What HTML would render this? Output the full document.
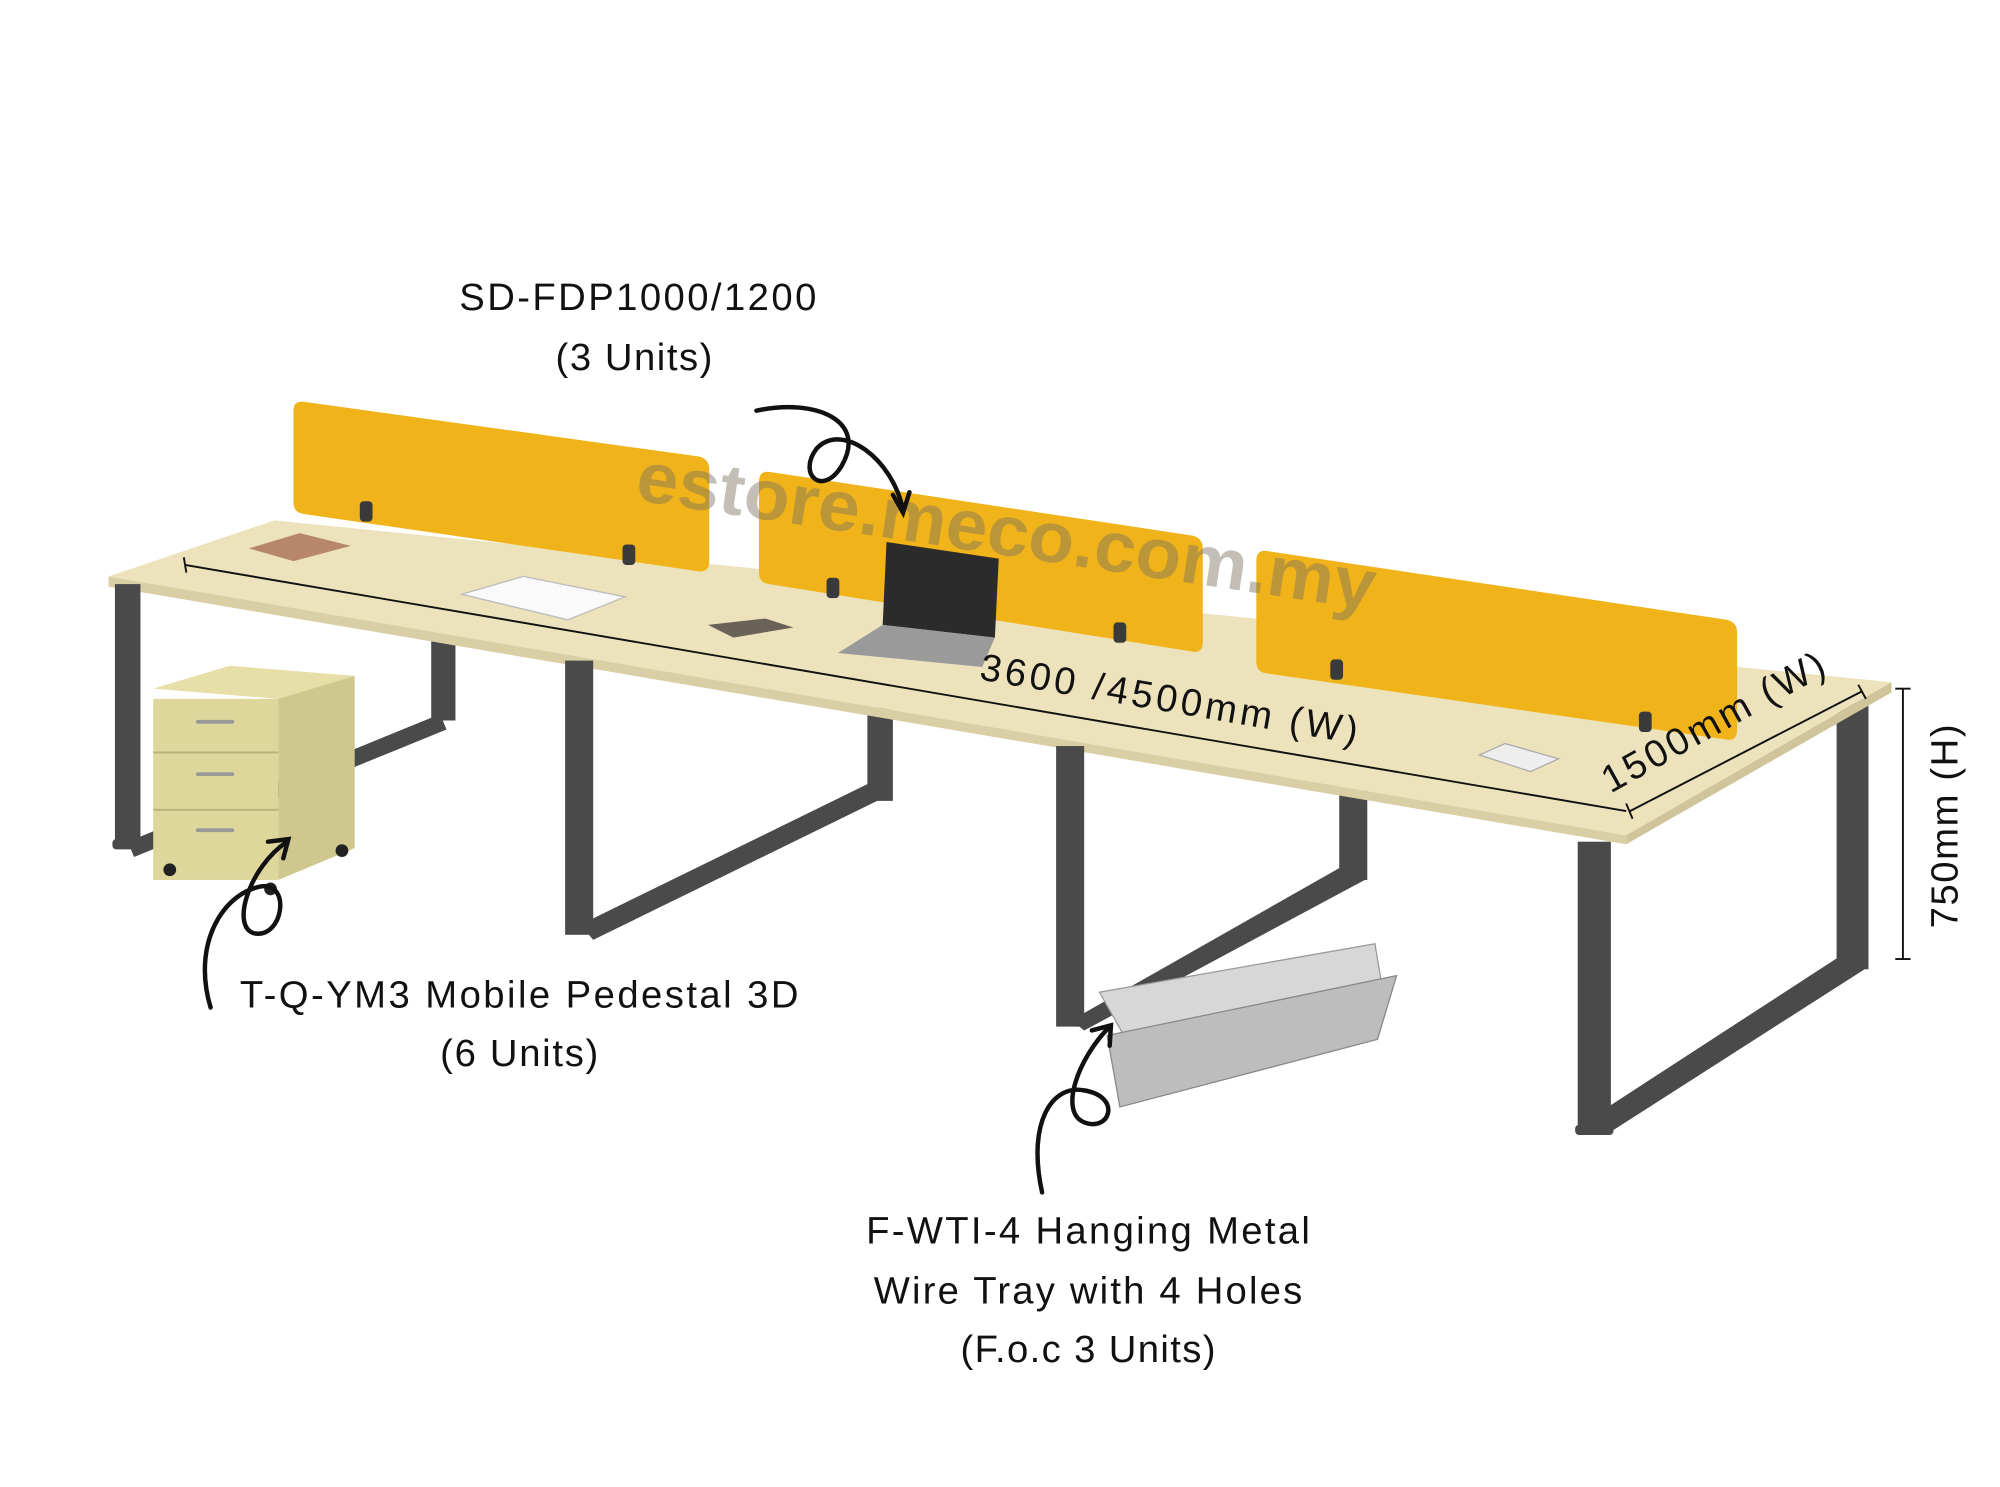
<!DOCTYPE html>
<html><head><meta charset="utf-8"><style>
html,body{margin:0;padding:0;background:#fff;}
svg{display:block;}
text{font-family:"Liberation Sans",sans-serif;}
</style></head><body>
<svg width="2000" height="1487" viewBox="0 0 1568 1166" xmlns="http://www.w3.org/2000/svg">
<rect width="1568" height="1166" fill="#fff"/>
<!-- back legs -->
<g fill="#4a4a4a">
<polygon points="338,500 357,500 357,565 338,565"/>
<polygon points="100,660 345,560 350,572 105,672"/>
<polygon points="680,555 700,555 700,628 680,628"/>
<polygon points="1050,620 1072,620 1072,690 1050,690"/>
<polygon points="1440,550 1465,550 1465,760 1440,760"/>
</g>
<!-- table top -->
<polygon points="85,452 215,408 1483,535 1275,655" fill="#ece3bd"/>
<polygon points="85,452 1275,655 1275,662 85,460" fill="#d8cfa4"/>
<polygon points="1275,655 1483,535 1483,543 1275,662" fill="#cfc49a"/>
<!-- front legs -->
<g fill="#4a4a4a">
<rect x="90" y="458" width="20" height="205"/>
<rect x="88" y="658" width="24" height="8" rx="3"/>
<rect x="443" y="518" width="22" height="215"/>
<polygon points="455,725 690,610 700,622 465,737"/>
<rect x="828" y="585" width="22" height="220"/>
<polygon points="840,800 1060,675 1070,690 850,808"/>
<rect x="1237" y="660" width="26" height="225"/>
<polygon points="1250,875 1450,745 1462,760 1262,888"/>
<rect x="1235" y="882" width="30" height="8" rx="3"/>
</g>
<!-- panels -->
<g fill="#f0b41a">
<path d="M238,315 L548,358 Q556,360 556,368 L556,440 Q556,449 548,448 L238,403 Q230,402 230,394 L230,322 Q230,314 238,315Z"/>
<path d="M603,370 L935,420 Q943,422 943,430 L943,504 Q943,512 935,511 L603,458 Q595,457 595,449 L595,378 Q595,369 603,370Z"/>
<path d="M993,432 L1354,486 Q1362,488 1362,496 L1362,572 Q1362,581 1354,580 L993,528 Q985,527 985,519 L985,440 Q985,431 993,432Z"/>
</g>
<g fill="#3a3a3a">
<rect x="282" y="393" width="10" height="16" rx="3"/><rect x="488" y="427" width="10" height="16" rx="3"/>
<rect x="648" y="453" width="10" height="16" rx="3"/><rect x="873" y="488" width="10" height="16" rx="3"/>
<rect x="1043" y="517" width="10" height="16" rx="3"/><rect x="1285" y="558" width="10" height="16" rx="3"/>
</g>
<!-- laptop -->
<polygon points="695,425 783,438 780,500 692,490" fill="#2b2b2b"/>
<polygon points="692,490 780,500 770,523 657,512" fill="#9a9a9a"/>
<!-- desk items -->
<polygon points="362,466 410,452 490,468 445,486" fill="#fafafa" stroke="#bbb"/>
<polygon points="555,490 600,485 622,492 575,500" fill="#6a6158"/>
<polygon points="195,430 235,418 275,428 230,440" fill="#b8866a"/>
<polygon points="1160,592 1180,583 1222,595 1200,605" fill="#eee" stroke="#aaa"/>
<!-- pedestal -->
<polygon points="120,540 180,522 278,530 218,548" fill="#e6dfa7"/>
<polygon points="218,548 278,530 278,665 218,690" fill="#cfc88e"/>
<rect x="120" y="548" width="98" height="142" fill="#ddd79c"/>
<g stroke="#b8b27a" stroke-width="1.5"><line x1="120" y1="590" x2="218" y2="590"/><line x1="120" y1="635" x2="218" y2="635"/></g>
<g stroke="#999" stroke-width="3" stroke-linecap="round"><line x1="155" y1="566" x2="182" y2="566"/><line x1="155" y1="607" x2="182" y2="607"/><line x1="155" y1="651" x2="182" y2="651"/></g>
<g fill="#222"><circle cx="133" cy="682" r="5"/><circle cx="212" cy="697" r="5"/><circle cx="268" cy="667" r="5"/></g>
<!-- wire trays -->
<polygon points="862,778 1078,740 1083,770 880,810" fill="#d7d7d7" stroke="#999"/>
<polygon points="868,812 1095,765 1080,815 878,868" fill="#bdbdbd" stroke="#888"/>
<!-- watermark -->
<text x="497" y="392" transform="rotate(8.5 497 392)" font-size="56" font-weight="bold" fill="#7a7060" fill-opacity="0.45" textLength="585" lengthAdjust="spacingAndGlyphs">estore.meco.com.my</text>
<!-- dimension lines -->
<g stroke="#111" stroke-width="1.5" fill="none">
<line x1="145" y1="443" x2="1275" y2="636"/><line x1="144" y1="437" x2="146" y2="449"/>
<line x1="1278" y1="636" x2="1460" y2="542"/><line x1="1275" y1="630" x2="1280" y2="642"/><line x1="1457" y1="537" x2="1463" y2="548"/>
<line x1="1492" y1="540" x2="1492" y2="752"/><line x1="1486" y1="540" x2="1498" y2="540"/><line x1="1486" y1="752" x2="1498" y2="752"/>
</g>
<!-- curly arrows -->
<g stroke="#111" stroke-width="3.5" fill="none" stroke-linecap="round">
<path d="M593,322 C640,312 680,330 660,365 C645,390 625,372 640,352 C660,330 700,360 708,400"/>
<path d="M700,388 L708,402 L713,386"/>
<path d="M165,790 C150,740 175,700 205,695 C228,692 222,735 200,732 C180,728 195,680 225,660"/>
<path d="M210,660 L226,658 L222,673"/>
<path d="M817,935 C805,880 825,850 850,855 C880,860 870,888 850,880 C830,872 845,830 870,805"/>
<path d="M856,808 L871,804 L870,820"/>
</g>
<!-- labels -->
<g fill="#111" font-size="30" text-anchor="middle" lengthAdjust="spacingAndGlyphs">
<text x="500" y="243" textLength="280">SD-FDP1000/1200</text>
<text x="497" y="290" textLength="123">(3 Units)</text>
<text x="407" y="790" textLength="438">T-Q-YM3 Mobile Pedestal  3D</text>
<text x="407" y="836" textLength="124">(6 Units)</text>
<text x="853" y="975" textLength="348">F-WTI-4 Hanging Metal</text>
<text x="853" y="1022" textLength="336">Wire Tray with 4 Holes</text>
<text x="853" y="1068" textLength="200">(F.o.c 3 Units)</text>
<text x="915" y="558" transform="rotate(9.7 915 558)" textLength="300">3600 /4500mm (W)</text>
<text x="1348" y="575" transform="rotate(-29 1348 575)" textLength="195">1500mm (W)</text>
<text x="1535" y="648" transform="rotate(-90 1535 648)" textLength="160">750mm (H)</text>
</g>
</svg>
</body></html>
